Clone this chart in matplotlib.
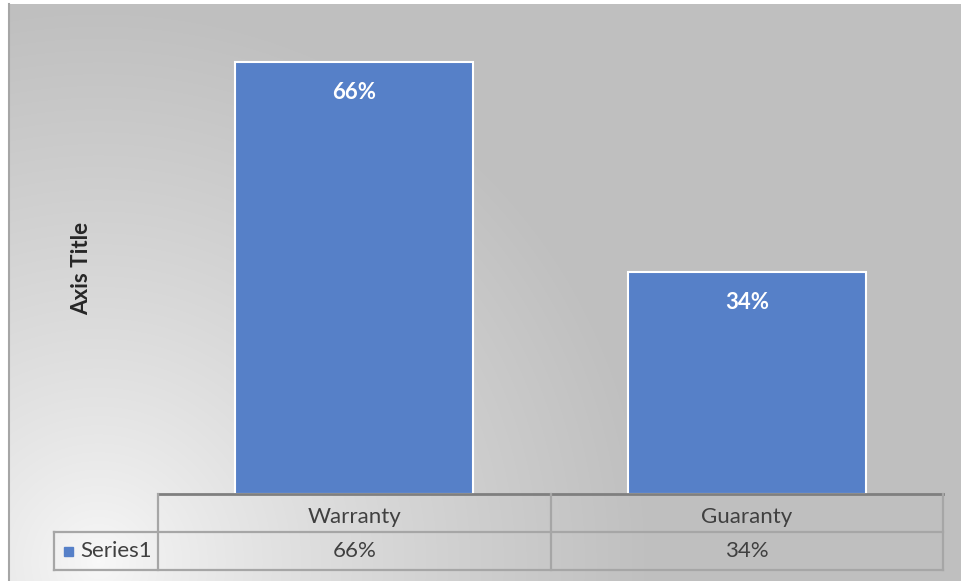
import numpy as np
import matplotlib.pyplot as plt
from matplotlib.transforms import blended_transform_factory

plt.rcParams['font.family'] = ['Lato', 'DejaVu Sans']

categories = ["Warranty", "Guaranty"]
values = [66, 34]
labels = ["66%", "34%"]
series_name = "Series1"

W, H = 961, 581
fig = plt.figure(figsize=(W / 100, H / 100), dpi=100)
fig.patch.set_facecolor("white")

# background: radial gradient from the lower left
bg = fig.add_axes([9 / W, 0, 1 - 9 / W, (H - 4) / H])
yy, xx = np.mgrid[0:H, 0:W]
d = np.hypot(xx - 90, (H - yy) - 20)
t = np.clip(d / 560, 0, 1) ** 0.8
shade = 0.975 - (0.975 - 0.75) * t
bg.imshow(np.dstack([shade] * 3), aspect="auto", extent=[0, 1, 0, 1], origin="upper")
bg.set_xticks([])
bg.set_yticks([])
for s in bg.spines.values():
    s.set_visible(False)
bg.spines["left"].set_visible(True)
bg.spines["left"].set_color("#a6a6a6")
bg.spines["left"].set_linewidth(1.5)


def fx(px):
    return px / W


def fy(py):
    return 1 - py / H


ax = fig.add_axes([fx(158), fy(494), fx(943) - fx(158), fy(36) - fy(494)])
ax.patch.set_alpha(0)
x = np.arange(len(categories))
bars = ax.bar(x, values, width=0.606, color="#5680c8", edgecolor="white", linewidth=1.5)
ax.set_xlim(-0.5, len(categories) - 0.5)
ax.set_ylim(0, 70)
ax.set_xticks([])
ax.set_yticks([])
for s in ax.spines.values():
    s.set_visible(False)

fs = 16
for b, lab in zip(bars, labels):
    ax.annotate(lab, (b.get_x() + b.get_width() / 2, b.get_height()),
                xytext=(0, -22), textcoords="offset points", ha="center", va="center",
                color="white", fontsize=fs, fontweight="bold")

fig.text(fx(82), fy(268), "Axis Title", rotation=90, ha="center", va="center",
         fontsize=fs, fontweight="bold", color="#262626")

# data table under the axis
lc = "#a6a6a6"
lw = 1.6
fig.add_artist(plt.Line2D([fx(158), fx(943)], [fy(494), fy(494)], color="#7f7f7f", lw=2))
for yv, x0 in [(532, 54), (570, 54)]:
    fig.add_artist(plt.Line2D([fx(x0), fx(943)], [fy(yv), fy(yv)], color=lc, lw=lw))
fig.add_artist(plt.Line2D([fx(54), fx(54)], [fy(532), fy(570)], color=lc, lw=lw))
for xv in [158, 551, 943]:
    fig.add_artist(plt.Line2D([fx(xv), fx(xv)], [fy(494), fy(570)], color=lc, lw=lw))

tr = blended_transform_factory(ax.transData, fig.transFigure)
for i, (c, lab) in enumerate(zip(categories, labels)):
    fig.text(i, fy(517), c, transform=tr, ha="center", va="center", fontsize=fs, color="#404040")
    fig.text(i, fy(551), lab, transform=tr, ha="center", va="center", fontsize=fs, color="#404040")

fig.patches.append(plt.Rectangle((fx(64), fy(556)), fx(9), 9 / H, color="#5680c8",
                                 transform=fig.transFigure, figure=fig))
fig.text(fx(80), fy(551), series_name, ha="left", va="center", fontsize=fs, color="#404040")

fig.savefig("out.png", dpi=100)
